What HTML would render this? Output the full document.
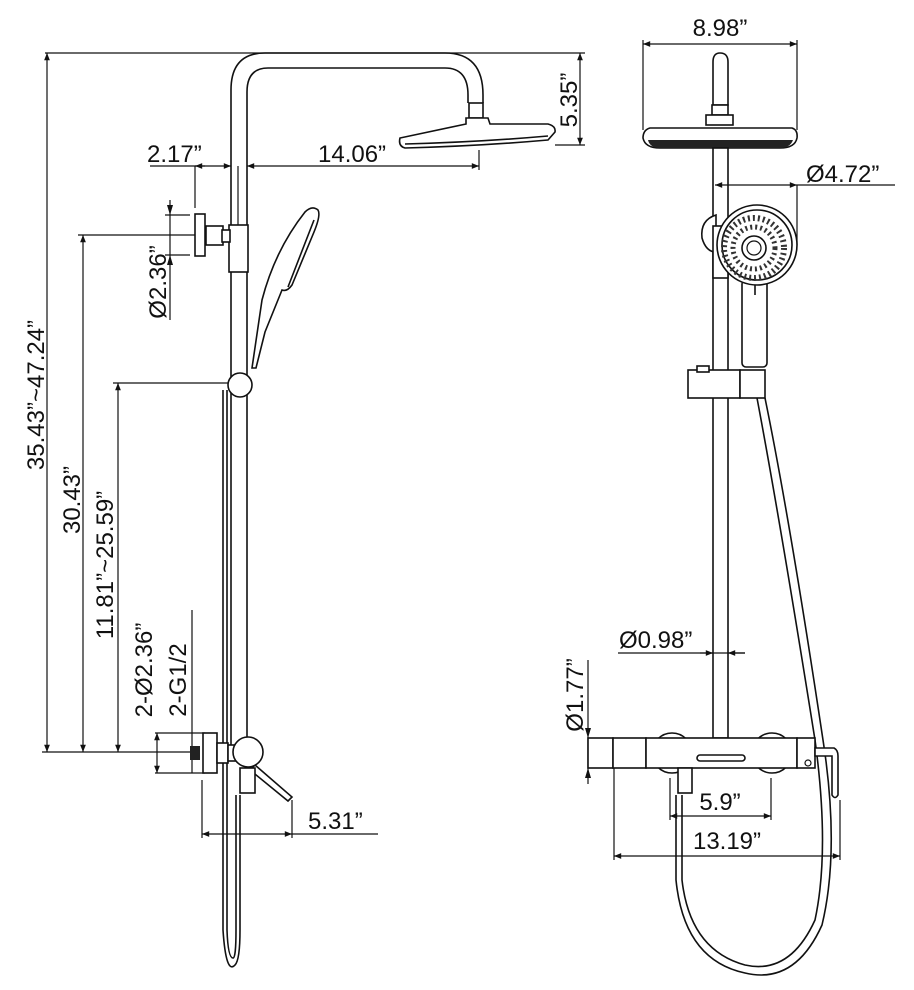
<!DOCTYPE html>
<html><head><meta charset="utf-8"><style>
html,body{margin:0;padding:0;background:#fff}
svg{display:block}
text{font-family:"Liberation Sans",sans-serif;font-size:24px;fill:#111}
.l{stroke:#111;stroke-width:1.6;fill:none}
.t{stroke:#111;stroke-width:1.2;fill:none}
.w{stroke:#111;stroke-width:1.6;fill:#fff}
</style></head><body>
<svg width="914" height="990" viewBox="0 0 914 990" xmlns="http://www.w3.org/2000/svg">
<defs><marker id="a" viewBox="0 0 10 10" refX="10" refY="5" markerWidth="9" markerHeight="6" orient="auto-start-reverse"><path d="M0,1 L10,5 L0,9z" fill="#111"/></marker></defs>

<!-- LEFT VIEW -->
<line class="t" x1="45" y1="53" x2="585" y2="53"/>
<line class="t" x1="47" y1="53" x2="47" y2="752" marker-start="url(#a)" marker-end="url(#a)"/>
<line class="t" x1="83" y1="235" x2="83" y2="752" marker-start="url(#a)" marker-end="url(#a)"/>
<line class="t" x1="118" y1="383" x2="118" y2="752" marker-start="url(#a)" marker-end="url(#a)"/>
<line class="t" x1="78" y1="235" x2="231" y2="235"/>
<line class="t" x1="113" y1="383" x2="232" y2="383"/>
<line class="t" x1="42" y1="752" x2="195" y2="752"/>
<text transform="translate(44,395) rotate(-90)" text-anchor="middle">35.43”~47.24”</text>
<text transform="translate(80,500) rotate(-90)" text-anchor="middle">30.43”</text>
<text transform="translate(113,565) rotate(-90)" text-anchor="middle">11.81”~25.59”</text>
<line class="t" x1="580" y1="53" x2="580" y2="145" marker-start="url(#a)" marker-end="url(#a)"/>
<line class="t" x1="555" y1="145" x2="585" y2="145"/>
<text transform="translate(577,100) rotate(-90)" text-anchor="middle">5.35”</text>
<line class="t" x1="150" y1="166" x2="205" y2="166"/>
<line class="t" x1="195" y1="166" x2="231" y2="166" marker-start="url(#a)" marker-end="url(#a)"/>
<line class="t" x1="247" y1="166" x2="479" y2="166" marker-start="url(#a)" marker-end="url(#a)"/>
<line class="t" x1="195" y1="166" x2="195" y2="208"/>
<line class="t" x1="479" y1="150" x2="479" y2="170"/>
<text x="147" y="162">2.17”</text>
<text x="318" y="162">14.06”</text>
<line class="t" x1="170" y1="200" x2="170" y2="320"/>
<line class="t" x1="165" y1="215" x2="190" y2="215"/>
<line class="t" x1="165" y1="255" x2="190" y2="255"/>
<path d="M170,215 l-3,-10 h6z M170,255 l-3,10 h6z" fill="#111"/>
<text transform="translate(166,282) rotate(-90)" text-anchor="middle">Ø2.36”</text>

<path class="l" d="M231,745 V90 Q231,53 265,53 H445 Q483,53 483,95 V103"/>
<path class="l" d="M247,742 V92 Q247,68 268,68 H445 Q468,68 468,95 V103"/>
<line class="t" x1="238" y1="166" x2="238" y2="226"/>
<rect class="w" x="469" y="103" width="14" height="15"/>
<path class="w" d="M466,118 H488 L490,124 H548 Q556,126 555,132 L548,140 Q480,146 405,148 Q398,146 400,138 L466,124z"/>
<path class="l" d="M405,144 Q480,142 548,136"/>
<rect class="w" x="229" y="225" width="19" height="47"/>
<rect class="w" x="206" y="226" width="17" height="19"/>
<rect class="w" x="222" y="230" width="8" height="12"/>
<rect class="w" x="195" y="214" width="10" height="42"/>
<path class="w" d="M252,368 L262,300 Q275,250 305,212 Q312,205 318,210 Q321,215 314,232 L292,285 Q287,292 282,290 L265,332 L256,368z"/>
<path class="l" d="M288,287 L314,220"/>
<path class="l" d="M223,390 V930 Q226,975 235,965 Q240,960 240,930 V795"/>
<path class="l" d="M227,390 V930 Q228,958 233,958 Q236,958 236,930 V795"/>
<circle class="w" cx="240" cy="385" r="12"/>
<line class="t" x1="157" y1="733" x2="157" y2="773" marker-start="url(#a)" marker-end="url(#a)"/>
<line class="t" x1="192" y1="610" x2="192" y2="773"/>
<line class="t" x1="155" y1="733" x2="205" y2="733"/>
<line class="t" x1="155" y1="773" x2="205" y2="773"/>
<text transform="translate(152,670) rotate(-90)" text-anchor="middle">2-Ø2.36”</text>
<text transform="translate(186,680) rotate(-90)" text-anchor="middle">2-G1/2</text>
<rect x="190" y="746" width="10" height="14" fill="#222"/>
<rect class="w" x="203" y="733" width="14" height="40"/>
<rect class="w" x="217" y="743" width="11" height="20"/>
<rect class="w" x="228" y="745" width="8" height="16"/>
<path class="w" d="M255,765 L292,797 L288,801 L250,770z"/>
<rect class="w" x="240" y="768" width="15" height="25"/>
<circle class="w" cx="248" cy="752" r="15"/>
<line class="t" x1="202" y1="780" x2="202" y2="838"/>
<line class="t" x1="292" y1="800" x2="292" y2="838"/>
<line class="t" x1="202" y1="834" x2="292" y2="834" marker-start="url(#a)" marker-end="url(#a)"/>
<line class="t" x1="292" y1="834" x2="378" y2="834"/>
<text x="308" y="829">5.31”</text>

<!-- RIGHT VIEW -->
<line class="t" x1="643" y1="44" x2="797" y2="44" marker-start="url(#a)" marker-end="url(#a)"/>
<line class="t" x1="643" y1="40" x2="643" y2="130"/>
<line class="t" x1="797" y1="40" x2="797" y2="130"/>
<text x="720" y="36" text-anchor="middle">8.98”</text>
<path class="w" d="M713,105 V62 Q713,53 720,53 Q728,53 728,62 V105z"/>
<rect class="w" x="712" y="105" width="16" height="10"/>
<rect class="w" x="706" y="115" width="27" height="10"/>
<path class="w" d="M650,128 H792 Q798,130 797,138 Q795,148 780,148 H660 Q645,148 643,138 Q643,130 650,128z"/>
<path d="M648,140 H793 Q790,148 780,148 H660 Q650,148 648,140z" fill="#222"/>
<rect class="w" x="713" y="148" width="15" height="590"/>
<line class="t" x1="715" y1="185" x2="797" y2="185" marker-start="url(#a)" marker-end="url(#a)"/>
<line class="t" x1="797" y1="185" x2="895" y2="185"/>
<line class="t" x1="797" y1="185" x2="797" y2="245"/>
<text x="806" y="182">Ø4.72”</text>
<path class="w" d="M716,215 Q700,220 702,238 Q706,252 716,252z"/>
<rect class="w" x="713" y="226" width="15" height="52"/>
<rect class="w" x="742" y="280" width="25" height="87" rx="4"/>
<circle class="w" cx="757" cy="245" r="40"/>
<circle class="l" cx="757" cy="245" r="35"/>
<circle cx="754" cy="248" r="30" fill="none" stroke="#333" stroke-width="6" stroke-dasharray="2 3"/>
<circle cx="754" cy="248" r="21" fill="none" stroke="#333" stroke-width="5" stroke-dasharray="2 3"/>
<circle class="l" cx="754" cy="248" r="12"/>
<circle class="t" cx="754" cy="248" r="7"/>
<line class="l" x1="755" y1="285" x2="755" y2="295"/>
<rect class="w" x="688" y="370" width="52" height="28"/>
<rect class="w" x="740" y="370" width="25" height="28"/>
<rect class="w" x="697" y="366" width="12" height="6"/>
<path class="l" d="M757,398 Q780,520 815,740 Q830,850 815,920 Q790,975 745,965 Q690,950 682,880 V795"/>
<path class="l" d="M765,398 Q790,520 823,740 Q840,850 822,925 Q795,985 745,973 Q684,960 676,880 V795"/>
<line class="t" x1="618" y1="653" x2="745" y2="653"/>
<line class="t" x1="700" y1="653" x2="713" y2="653" marker-end="url(#a)"/>
<line class="t" x1="745" y1="653" x2="728" y2="653" marker-end="url(#a)"/>
<text x="619" y="648">Ø0.98”</text>
<line class="t" x1="588" y1="660" x2="588" y2="784"/>
<path d="M588,738 l-3,-10 h6z M588,768 l-3,10 h6z" fill="#111"/>
<text transform="translate(583,695) rotate(-90)" text-anchor="middle">Ø1.77”</text>
<circle class="w" cx="672" cy="753" r="20"/>
<circle class="w" cx="772" cy="753" r="20"/>
<rect class="w" x="588" y="738" width="25" height="30"/>
<rect class="w" x="613" y="738" width="33" height="30"/>
<rect class="w" x="646" y="738" width="151" height="30"/>
<rect class="w" x="797" y="738" width="18" height="30"/>
<circle class="t" cx="808" cy="763" r="3"/>
<path class="w" d="M815,748 H834 Q838,750 838,756 V795 Q835,800 832,795 V756 H815z"/>
<rect class="w" x="697" y="755" width="48" height="6" rx="3"/>
<rect class="w" x="678" y="768" width="14" height="25"/>
<line class="t" x1="670" y1="778" x2="670" y2="820"/>
<line class="t" x1="771" y1="778" x2="771" y2="820"/>
<line class="t" x1="670" y1="816" x2="771" y2="816" marker-start="url(#a)" marker-end="url(#a)"/>
<text x="720" y="810" text-anchor="middle">5.9”</text>
<line class="t" x1="614" y1="768" x2="614" y2="860"/>
<line class="t" x1="840" y1="800" x2="840" y2="860"/>
<line class="t" x1="614" y1="856" x2="840" y2="856" marker-start="url(#a)" marker-end="url(#a)"/>
<text x="727" y="849" text-anchor="middle">13.19”</text>
</svg>
</body></html>
